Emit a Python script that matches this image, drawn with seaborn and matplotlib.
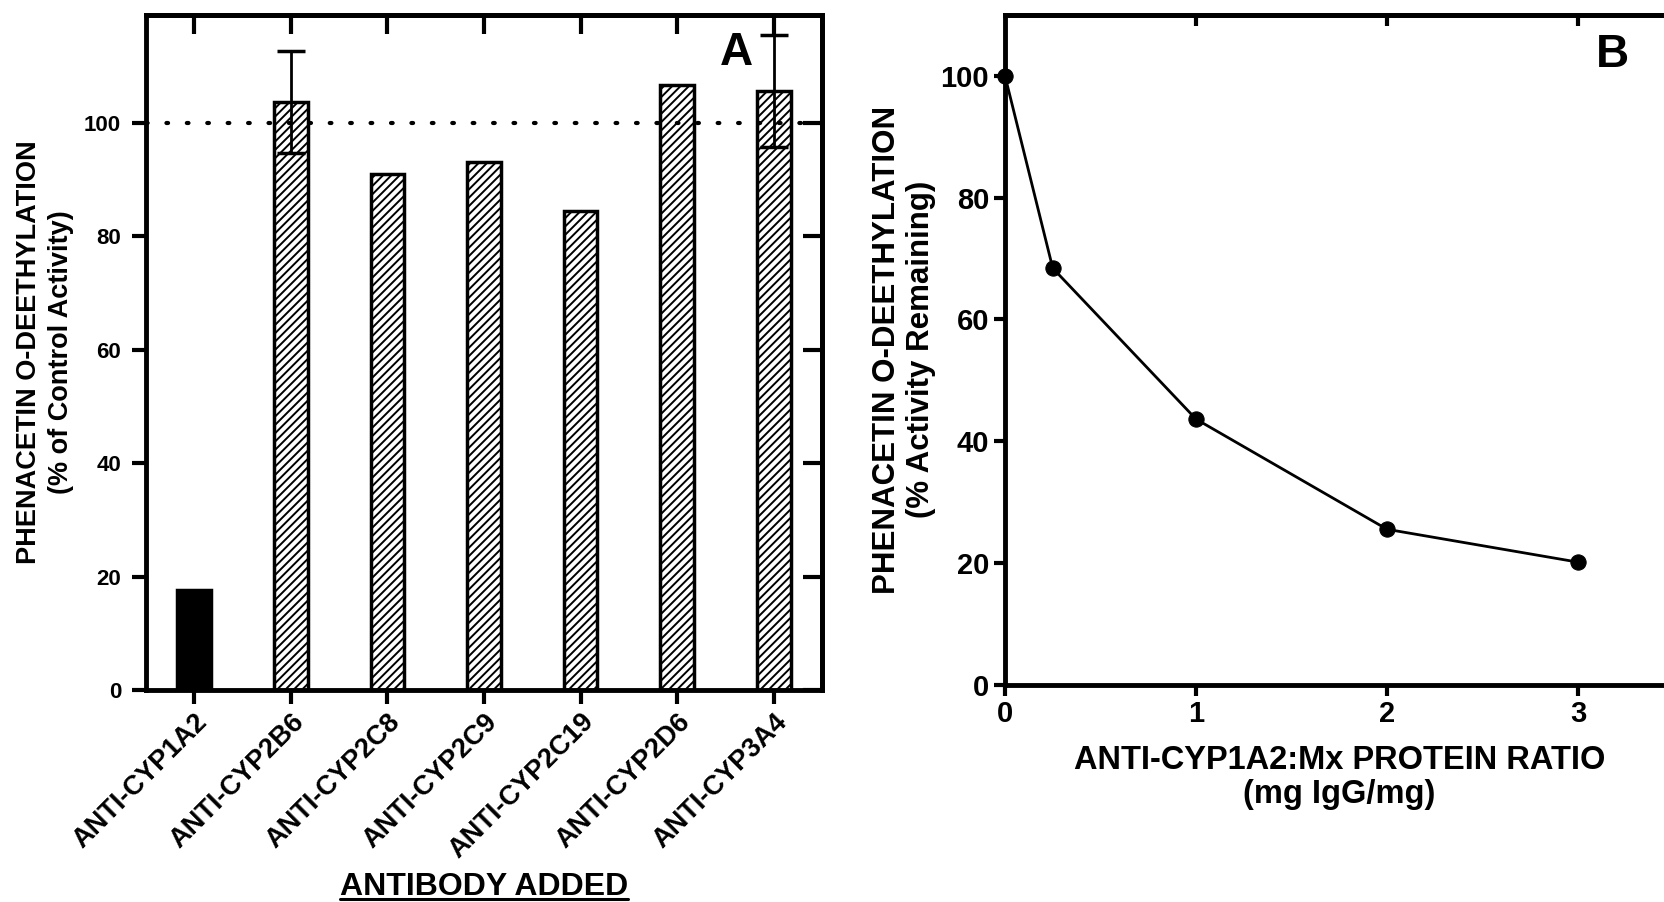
import numpy as np
import pandas as pd
import seaborn as sns
import matplotlib
matplotlib.use('Agg')
import matplotlib.pyplot as plt
from matplotlib.lines import Line2D

# panel A data
antibodies = ['ANTI-CYP1A2', 'ANTI-CYP2B6', 'ANTI-CYP2C8', 'ANTI-CYP2C9',
              'ANTI-CYP2C19', 'ANTI-CYP2D6', 'ANTI-CYP3A4']
activity_pct = [17.6, 103.7, 91.0, 93.1, 84.5, 106.7, 105.6]
activity_sd = [np.nan, 9.0, np.nan, np.nan, np.nan, np.nan, 9.9]

# panel B data
ratio = [0, 0.25, 1, 2, 3]
remaining = [100, 68.4, 43.6, 25.5, 20.1]

sns.set_style('ticks')
plt.rcParams['font.family'] = ['Liberation Sans', 'DejaVu Sans']
plt.rcParams['font.weight'] = 'bold'
plt.rcParams['hatch.linewidth'] = 1.4
for k in ['text.color', 'axes.labelcolor', 'xtick.color', 'ytick.color',
          'axes.edgecolor', 'xtick.labelcolor', 'ytick.labelcolor']:
    plt.rcParams[k] = 'black'

fig = plt.figure(figsize=(16.64, 9.02), dpi=100)
axA = fig.add_axes([146 / 1664, 1 - 690 / 902, 676 / 1664, 675 / 902])
axB = fig.add_axes([1005 / 1664, 1 - 684.5 / 902, 668.6 / 1664, 669.5 / 902])

# ---- panel A
dfA = pd.DataFrame({'antibody': antibodies, 'pct': activity_pct})
colors = ['black'] + ['white'] * (len(antibodies) - 1)
sns.barplot(data=dfA, x='antibody', y='pct', hue='antibody', palette=colors,
            width=0.35, edgecolor='black', linewidth=2.5, errorbar=None,
            legend=False, ax=axA)
for p in axA.patches[1:]:
    p.set_hatch('////')
axA.errorbar(range(len(antibodies)), activity_pct, yerr=activity_sd, fmt='none',
             ecolor='black', elinewidth=2, capsize=10, capthick=2.5, zorder=5)
axA.axhline(100, color='black', lw=3, linestyle=(0, (0.4, 4.5)),
            dash_capstyle='round', zorder=1)
axA.set_xlim(-0.5, 6.5)
axA.set_ylim(0, 119)
axA.set_yticks([0, 20, 40, 60, 80, 100])
axA.set_xlabel('')
axA.set_ylabel('PHENACETIN O-DEETHYLATION\n(% of Control Activity)',
               fontsize=19.5, fontweight='bold', linespacing=1.3)
axA.yaxis.set_label_coords(-0.106, 0.5)
axA.tick_params(axis='both', direction='out', length=10, width=3, labelsize=16)
axA.tick_params(axis='y', pad=8)
axA.set_xticks(range(len(antibodies)))
axA.set_xticklabels(antibodies, rotation=45, ha='right', rotation_mode='anchor',
                    fontsize=19.5, fontweight='bold')
for s in axA.spines.values():
    s.set_linewidth(3.5)
topA = axA.secondary_xaxis('top')
topA.set_xticks(range(len(antibodies)))
topA.tick_params(direction='in', length=14, width=3, labeltop=False)
topA.spines['top'].set_linewidth(3.5)
rightA = axA.secondary_yaxis('right')
rightA.set_yticks([0, 20, 40, 60, 80, 100])
rightA.tick_params(direction='in', length=14, width=3, labelright=False)
rightA.spines['right'].set_linewidth(3.5)
axA.text(0.874, 0.944, 'A', transform=axA.transAxes, ha='center', va='center',
         fontsize=33, fontweight='bold')

# ---- panel B
dfB = pd.DataFrame({'ratio': ratio, 'remaining': remaining})
sns.lineplot(data=dfB, x='ratio', y='remaining', color='black', lw=2,
             marker='o', markersize=11, markeredgecolor='black', ax=axB,
             clip_on=False, zorder=5)
axB.set_xlim(0, 3.5)
axB.set_ylim(0, 110)
axB.set_xticks([0, 1, 2, 3])
axB.set_yticks([0, 20, 40, 60, 80, 100])
axB.set_xlabel('ANTI-CYP1A2:Mx PROTEIN RATIO\n(mg IgG/mg)', fontsize=23.5,
               fontweight='bold', linespacing=1.15)
axB.xaxis.set_label_coords(0.5, -0.09)
axB.set_ylabel('PHENACETIN O-DEETHYLATION\n(% Activity Remaining)',
               fontsize=22.5, fontweight='bold', linespacing=1.2)
axB.yaxis.set_label_coords(-0.103, 0.5)
axB.tick_params(axis='both', direction='out', length=8, width=3, labelsize=21)
axB.spines['right'].set_visible(False)
for s in ['left', 'bottom', 'top']:
    axB.spines[s].set_linewidth(3.5)
topB = axB.secondary_xaxis('top')
topB.set_xticks([1, 2, 3])
topB.tick_params(direction='in', length=8, width=3, labeltop=False)
topB.spines['top'].set_linewidth(3.5)
axB.text(0.909, 0.94, 'B', transform=axB.transAxes, ha='center', va='center',
         fontsize=33, fontweight='bold')

# underlined x title for panel A
t = fig.text(484 / 1664, 1 - 895 / 902, 'ANTIBODY ADDED', ha='center',
             va='baseline', fontsize=23, fontweight='bold')
fig.canvas.draw()
bb = t.get_window_extent().transformed(fig.transFigure.inverted())
uy = 1 - 898.5 / 902
fig.add_artist(Line2D([bb.x0, bb.x1], [uy, uy], color='black', lw=2.2,
                      transform=fig.transFigure))

plt.savefig('out.png', dpi=100)
